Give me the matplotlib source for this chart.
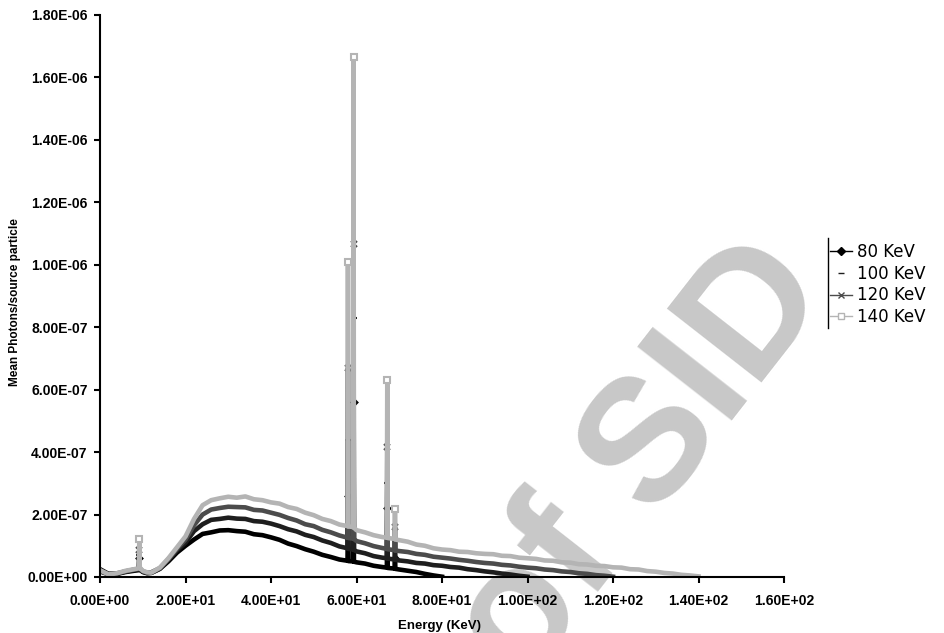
import matplotlib
matplotlib.use('Agg')
import matplotlib.pyplot as plt
from matplotlib.lines import Line2D
from matplotlib.ticker import FuncFormatter, MultipleLocator

plt.rcParams['font.family'] = ['Liberation Sans', 'DejaVu Sans']

# energy bins (keV), finer around the W L and K lines
energy = [0, 2, 4, 6, 8, 9.1, 9.2, 9.3, 10, 11, 12, 14,
          16, 18, 20, 22, 24, 26, 28, 30, 32, 34, 36, 38, 40, 42, 44, 46, 48, 50, 52, 54, 56,
          57.9, 58.0, 58.1, 59.2, 59.3, 59.4,
          60, 62, 64, 66,
          67.1, 67.2, 67.3, 68.9, 69.0, 69.1,
          70, 72, 74, 76, 78, 80, 82, 84, 86, 88, 90, 92, 94, 96, 98, 100,
          102, 104, 106, 108, 110, 112, 114, 116, 118, 120,
          122, 124, 126, 128, 130, 132, 134, 136, 138, 140]

# photons per source particle, in units of 1e-7
kev80 = [0.25, 0.1, 0.1, 0.16, 0.2, 0.22, 0.6, 0.24, 0.16, 0.12, 0.13, 0.26,
         0.5, 0.78, 1.0, 1.2, 1.38, 1.43, 1.49, 1.5, 1.47, 1.45, 1.37, 1.34, 1.27, 1.19, 1.07, 0.99, 0.89, 0.81, 0.71, 0.64, 0.56,
         0.52, 2.6, 0.51, 0.5, 5.6, 0.49,
         0.47, 0.43, 0.36, 0.32,
         0.3, 2.2, 0.29, 0.27, 0.6, 0.26,
         0.24, 0.2, 0.16, 0.1, 0.05, 0.01]

kev100 = [0.18, 0.08, 0.1, 0.18, 0.22, 0.25, 0.72, 0.26, 0.17, 0.13, 0.14, 0.27,
          0.55, 0.85, 1.1, 1.47, 1.69, 1.83, 1.86, 1.9, 1.87, 1.86, 1.79, 1.77, 1.71, 1.63, 1.53, 1.46, 1.35, 1.28, 1.17, 1.09, 0.98,
          0.92, 4.4, 0.9, 0.88, 8.3, 0.87,
          0.82, 0.76, 0.67, 0.62,
          0.6, 3.0, 0.59, 0.56, 1.2, 0.55,
          0.53, 0.5, 0.45, 0.43, 0.38, 0.36, 0.32, 0.3, 0.25, 0.22, 0.18, 0.15, 0.11, 0.08, 0.04, 0.01]

kev120 = [0.2, 0.1, 0.12, 0.18, 0.24, 0.26, 0.85, 0.28, 0.18, 0.14, 0.15, 0.28,
          0.57, 0.9, 1.2, 1.66, 2.0, 2.16, 2.21, 2.25, 2.24, 2.23, 2.15, 2.13, 2.06, 1.99, 1.89, 1.81, 1.69, 1.63, 1.51, 1.43, 1.33,
          1.26, 6.7, 1.25, 1.23, 10.67, 1.22,
          1.15, 1.08, 0.99, 0.93,
          0.9, 4.16, 0.89, 0.86, 1.6, 0.85,
          0.83, 0.8, 0.74, 0.71, 0.65, 0.62, 0.59, 0.55, 0.52, 0.48, 0.45, 0.43, 0.39, 0.37, 0.33, 0.3,
          0.28, 0.24, 0.22, 0.18, 0.16, 0.12, 0.1, 0.06, 0.04, 0.01]

kev140 = [0.22, 0.08, 0.12, 0.2, 0.25, 0.28, 1.22, 0.3, 0.2, 0.15, 0.14, 0.3,
          0.6, 0.95, 1.3, 1.86, 2.3, 2.46, 2.52, 2.57, 2.54, 2.58, 2.49, 2.46, 2.39, 2.35, 2.24, 2.18, 2.06, 1.98, 1.86, 1.79, 1.68,
          1.63, 10.1, 1.62, 1.6, 16.65, 1.58,
          1.5, 1.43, 1.34, 1.28,
          1.26, 6.3, 1.25, 1.22, 2.18, 1.2,
          1.18, 1.13, 1.04, 1.0, 0.92, 0.88, 0.86, 0.81, 0.8, 0.76, 0.74, 0.73, 0.68, 0.67, 0.62, 0.6,
          0.58, 0.53, 0.52, 0.47, 0.46, 0.41, 0.4, 0.36, 0.35, 0.31,
          0.3, 0.25, 0.24, 0.19, 0.17, 0.13, 0.11, 0.07, 0.05, 0.02]

labels = ['80 KeV', '100 KeV', '120 KeV', '140 KeV']
spectra = [kev80, kev100, kev120, kev140]
colors = ['#000000', '#1e1e1e', '#4c4c4c', '#b4b4b4']
markers = ['D', '_', 'x', 's']
peaks = [6, 34, 37, 44, 47]  # indices of the characteristic lines

fig = plt.figure(figsize=(9.44, 6.33), dpi=100)
ax = fig.add_axes([100 / 944, 56 / 633, 684 / 944, 562 / 633])
ax.patch.set_alpha(0)

for vals, c, m in zip(spectra, colors, markers):
    y = [v * 1e-7 for v in vals]
    ax.plot(energy[:len(y)], y, color=c, lw=3.3, solid_joinstyle='round',
            marker=m, markevery=peaks, ms=5 if m != 'D' else 3,
            mfc='white' if m == 's' else c, mec=c, mew=1.5)

ax.set_xlim(0, 160)
ax.set_ylim(0, 1.8e-6)
ax.xaxis.set_major_locator(MultipleLocator(20))
ax.yaxis.set_major_locator(MultipleLocator(2e-7))
sci = FuncFormatter(lambda v, p: '%.2E' % v)
ax.xaxis.set_major_formatter(sci)
ax.yaxis.set_major_formatter(sci)

for s in ['top', 'right']:
    ax.spines[s].set_visible(False)
for s in ['left', 'bottom']:
    ax.spines[s].set_linewidth(1.5)
ax.tick_params(direction='out', length=4, width=1.5, labelsize=10)
ax.tick_params(axis='x', pad=8)
ax.tick_params(axis='y', pad=5)
for t in ax.get_xticklabels() + ax.get_yticklabels():
    t.set_fontweight('bold')

ax.set_xlabel('Energy (KeV)', fontsize=9.5, fontweight='bold')
ax.xaxis.set_label_coords(0.497, -0.077)
ax.set_ylabel('Mean Photons/source particle', fontsize=8.5, fontweight='bold')
ax.yaxis.set_label_coords(-0.115, 0.49)

handles = []
for c, m in zip(colors, markers):
    ls = 'none' if m == '_' else '-'
    handles.append(Line2D([], [], color=c, lw=1, ls=ls, marker=m, ms=4,
                          mfc='white' if m == 's' else c, mec=c))
fig.legend(handles, labels, loc='upper left', bbox_to_anchor=(830 / 944, 1 - 243 / 633),
           frameon=False, borderaxespad=0, borderpad=0, handlelength=1.3,
           handletextpad=0.3, labelspacing=0.22,
           prop={'family': 'DejaVu Sans', 'size': 12})
fig.add_artist(Line2D([828 / 944] * 2, [1 - 238 / 633, 1 - 328 / 633], color='black', lw=1))

fig.text(0.68, 0.27, 'of SID', rotation=52, fontsize=125, fontweight='bold',
         color='#c8c8c8', ha='center', va='center', zorder=-1)

fig.savefig('out.png', dpi=100)
